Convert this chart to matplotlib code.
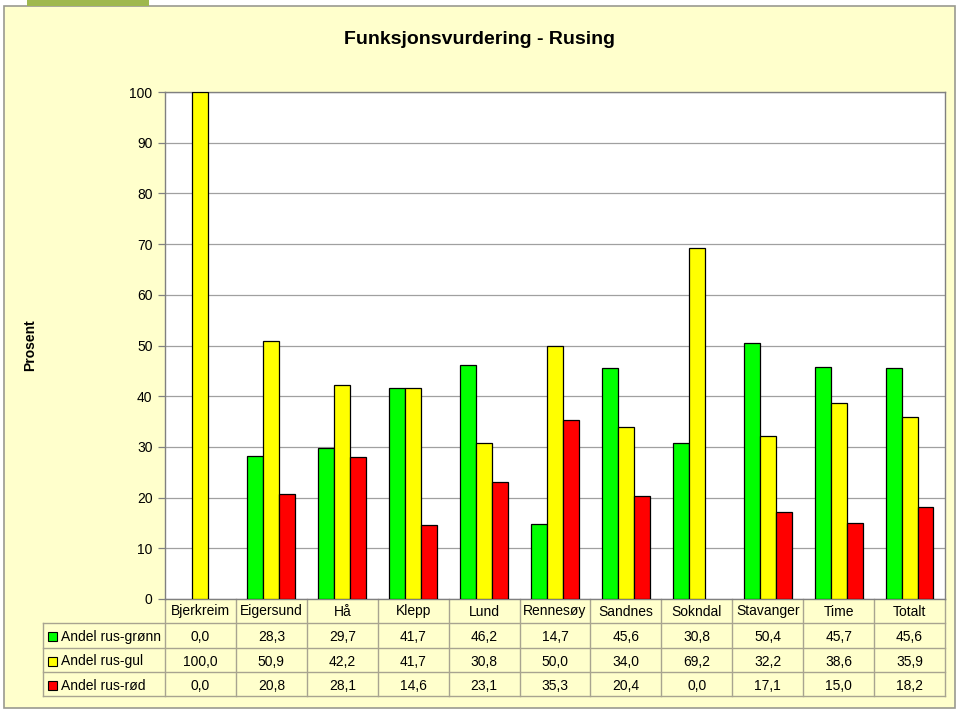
import matplotlib
matplotlib.use('Agg')
import matplotlib.pyplot as plt
import matplotlib.patches as mpatches
import matplotlib.lines as mlines
import numpy as np

plt.rcParams['font.family'] = ['Liberation Sans', 'DejaVu Sans']

kommuner = ['Bjerkreim', 'Eigersund', 'Hå', 'Klepp', 'Lund', 'Rennesøy',
            'Sandnes', 'Sokndal', 'Stavanger', 'Time', 'Totalt']
gronn = [0.0, 28.3, 29.7, 41.7, 46.2, 14.7, 45.6, 30.8, 50.4, 45.7, 45.6]
gul = [100.0, 50.9, 42.2, 41.7, 30.8, 50.0, 34.0, 69.2, 32.2, 38.6, 35.9]
rod = [0.0, 20.8, 28.1, 14.6, 23.1, 35.3, 20.4, 0.0, 17.1, 15.0, 18.2]
serier = ['Andel rus-grønn', 'Andel rus-gul', 'Andel rus-rød']
farger = ['#00ff00', '#ffff00', '#ff0000']

W, H = 960, 713
BG = '#ffffcc'
LINE = '#a8a490'
FS = 10

fig = plt.figure(figsize=(W / 100, H / 100), dpi=100, facecolor='white')


def fx(px):
    return px / W


def fy(py):
    return 1 - py / H


# outer chart frame and the small tab on top
fig.patches.append(mpatches.Rectangle((fx(4), fy(708)), fx(951), 702 / H,
                                      transform=fig.transFigure, facecolor=BG,
                                      edgecolor='#9a9a90', lw=1.2, zorder=-2))
fig.patches.append(mpatches.Rectangle((fx(27), fy(6)), fx(122), 6 / H,
                                      transform=fig.transFigure, facecolor='#9fb84e',
                                      edgecolor='none', zorder=-2))

left, right, top, bottom = 165, 945, 92, 599
ax = fig.add_axes([fx(left), fy(bottom), fx(right - left), (bottom - top) / H])
ax.set_facecolor('white')

x = np.arange(len(kommuner))
w = 0.225
for i, (vals, c) in enumerate(zip([gronn, gul, rod], farger)):
    lws = [0.9 if v > 0 else 0 for v in vals]
    ax.bar(x + (i - 1) * w, vals, width=w, color=c, edgecolor='black', linewidth=lws, zorder=3)

ax.set_xlim(-0.5, len(kommuner) - 0.5)
ax.set_ylim(0, 100)
ax.set_yticks(np.arange(0, 101, 10))
ax.set_yticklabels([str(v) for v in range(0, 101, 10)], fontsize=FS)
ax.set_xticks([])
ax.grid(axis='y', color='#a0a0a0', lw=0.9, zorder=0)
ax.set_axisbelow(True)
ax.tick_params(axis='y', length=5, width=0.9, color='#808080', pad=4)
for s in ax.spines.values():
    s.set_color('#808080')
    s.set_linewidth(1.0)

fig.text(0.5, fy(39), 'Funksjonsvurdering - Rusing', ha='center', va='center',
         fontsize=14, fontweight='bold')
fig.text(fx(30), fy(345), 'Prosent', ha='center', va='center', rotation=90,
         fontsize=FS, fontweight='bold')

# data table below the axes
rows_px = [599, 623, 648, 672, 696]
baselines = [615.5, 641, 665.5, 690]
leg_left = 43
tr = ax.get_xaxis_transform()


def ay(py):
    return (bottom - py) / (bottom - top)


def hline(x0, x1, py):
    fig.lines.append(mlines.Line2D([fx(x0), fx(x1)], [fy(py), fy(py)],
                                   transform=fig.transFigure, color=LINE, lw=1.0))


for py in rows_px[1:]:
    hline(leg_left, right, py)
fig.lines.append(mlines.Line2D([fx(leg_left), fx(leg_left)], [fy(rows_px[1]), fy(rows_px[-1])],
                               transform=fig.transFigure, color=LINE, lw=1.0))
for b in np.arange(-0.5, len(kommuner), 1.0):
    ax.add_line(mlines.Line2D([b, b], [ay(rows_px[0]), ay(rows_px[-1])], transform=tr,
                              color=LINE, lw=1.0, clip_on=False))

for i, k in enumerate(kommuner):
    ax.text(x[i], ay(baselines[0]), k, transform=tr, ha='center',
            va='baseline', fontsize=FS, clip_on=False)

for r, (navn, vals, c) in enumerate(zip(serier, [gronn, gul, rod], farger)):
    yb = baselines[r + 1]
    fig.patches.append(mpatches.Rectangle((fx(48), fy(yb)), fx(9), 9 / H,
                                          transform=fig.transFigure, facecolor=c,
                                          edgecolor='black', lw=0.8))
    fig.text(fx(61), fy(yb), navn, ha='left', va='baseline', fontsize=FS)
    for i, v in enumerate(vals):
        ax.text(x[i], ay(yb), f'{v:.1f}'.replace('.', ','), transform=tr, ha='center',
                va='baseline', fontsize=FS, clip_on=False)

plt.savefig('out.png', dpi=100, facecolor=fig.get_facecolor())
